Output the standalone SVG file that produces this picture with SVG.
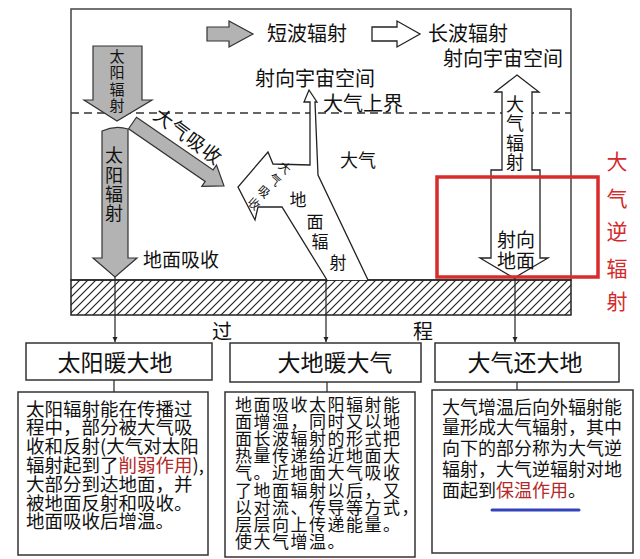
<svg xmlns="http://www.w3.org/2000/svg" width="640" height="559" viewBox="0 0 640 559">
<defs>
<pattern id="hatch" patternUnits="userSpaceOnUse" width="8" height="8">
<path d="M-2,2 L2,-2 M0,8 L8,0 M6,10 L10,6" stroke="#222" stroke-width="1.2"/>
</pattern>
<marker id="ah" viewBox="0 0 10 10" refX="10" refY="5" markerWidth="5" markerHeight="8" orient="auto" markerUnits="userSpaceOnUse">
<path d="M0,0 L10,5 L0,10 Z" fill="#222"/>
</marker>
<style>
text{font-family:"Noto Sans CJK SC","Noto Sans",sans-serif;fill:#111}
.g{fill:#b3b3b3;stroke:#333;stroke-width:1.2;stroke-linejoin:miter}
.w{fill:#fff;stroke:#222;stroke-width:1.3}
.box{fill:#fff;stroke:#333;stroke-width:1.5}
.ln{stroke:#222;stroke-width:1.2;fill:none}
.red{fill:#b22a2a}
.rt{fill:#d42a2a}
.m{text-anchor:middle}
</style>
</defs>
<rect width="640" height="559" fill="#fff"/>

<g id="frame">
<rect x="71" y="9" width="500" height="271" fill="#fff" stroke="#444" stroke-width="1.5"/>
<line x1="71" y1="113" x2="571" y2="113" stroke="#333" stroke-width="1.3" stroke-dasharray="8,5"/>
<rect x="71" y="280" width="500" height="35" fill="url(#hatch)" stroke="#222" stroke-width="1.5"/>
</g>

<g id="legend">
<path class="g" d="M207,27 L229,27 L229,21 L253,34 L229,47 L229,41 L207,41 Z"/>
<text x="267" y="40.5" font-size="20">短波辐射</text>
<path class="w" d="M372,27 L397,27 L397,21 L420,34 L397,47 L397,41 L372,41 Z"/>
<text x="428" y="40.5" font-size="20">长波辐射</text>
</g>

<g id="labels">
<text x="443" y="65.5" font-size="20">射向宇宙空间</text>
<text x="255" y="85.5" font-size="20">射向宇宙空间</text>
<text x="323" y="110.5" font-size="20">大气上界</text>
<text x="340" y="166.5" font-size="18">大气</text>
<text x="143" y="266.5" font-size="19">地面吸收</text>
<text x="212" y="339" font-size="20">过</text>
<text x="413" y="339" font-size="20">程</text>
</g>

<g id="solar-in">
<path class="g" d="M93,46 L142,46 L142,100 L152,100 L117,121 L84,100 L93,100 Z"/>
<text class="m" font-size="15"><tspan x="117" y="62">太</tspan><tspan x="117" y="78">阳</tspan><tspan x="117" y="94.5">辐</tspan><tspan x="117" y="110.5">射</tspan></text>
</g>

<g id="solar-ground">
<path class="g" d="M102,131 Q115,125 128,129 L128,258 L137,258 L115,277 L93,258 L102,258 Z"/>
<text class="m" font-size="18"><tspan x="114" y="161.5">太</tspan><tspan x="114" y="181.5">阳</tspan><tspan x="114" y="200.5">辐</tspan><tspan x="114" y="219.5">射</tspan></text>
</g>

<g id="atmo-absorb">
<path class="g" transform="translate(132.5,123) rotate(34.5)" d="M0,-7 L93,-7 L93,-13 L111,0 L93,13 L93,7 L0,7 Z"/>
<text transform="translate(152,118) rotate(37)" font-size="19" letter-spacing="1">大气吸收</text>
</g>

<g id="ground-radiation">
<path class="w" d="M327,280 L282,207 L258,207 L255,220 L238,187 L268,152 L273,164 L310,165 L310,102 L304,102 L309,90 L317,102 L315,102 L318,175 L368,280"/>
<text class="m" font-size="12" transform="translate(282,171) rotate(42)">大</text>
<text class="m" font-size="12" transform="translate(272,183) rotate(42)">气</text>
<text class="m" font-size="12" transform="translate(261,195) rotate(42)">吸</text>
<text class="m" font-size="12" transform="translate(251,207) rotate(42)">收</text>
<text class="m" font-size="17"><tspan x="298" y="206">地</tspan><tspan x="315" y="228">面</tspan><tspan x="320" y="248">辐</tspan><tspan x="338" y="269">射</tspan></text>
</g>

<g id="atmo-radiation">
<path class="w" d="M517,75 L539,92 L532,92 L532,170 L540,170 L540,258 L548,258 L514,278 L480,258 L491,258 L491,170 L502,170 L502,92 L495,92 Z"/>
<text class="m" font-size="18"><tspan x="515" y="110.5">大</tspan><tspan x="515" y="129.5">气</tspan><tspan x="515" y="150">辐</tspan><tspan x="515" y="168.5">射</tspan></text>
<text class="m" font-size="19"><tspan x="516" y="246.5">射向</tspan><tspan x="516" y="268">地面</tspan></text>
</g>

<g id="counter-radiation">
<rect x="437" y="177" width="161" height="100" fill="none" stroke="#d92b2b" stroke-width="3.5"/>
<text class="m rt" font-size="21"><tspan x="617" y="168.5">大</tspan><tspan x="617" y="205.5">气</tspan><tspan x="617" y="238.5">逆</tspan><tspan x="617" y="275.5">辐</tspan><tspan x="617" y="308.5">射</tspan></text>
</g>

<g id="connectors">
<line class="ln" x1="115" y1="277" x2="115" y2="342" marker-end="url(#ah)"/>
<line class="ln" x1="326" y1="280" x2="326" y2="342" marker-end="url(#ah)"/>
<line class="ln" x1="515" y1="278" x2="515" y2="342" marker-end="url(#ah)"/>
<line class="ln" x1="114" y1="380" x2="114" y2="392"/>
<line class="ln" x1="327" y1="382" x2="327" y2="392"/>
<line class="ln" x1="517" y1="382" x2="517" y2="390"/>
</g>

<g id="sun-warms-earth">
<rect class="box" x="26" y="343" width="186" height="37"/>
<text class="m" x="115" y="371" font-size="23">太阳暖大地</text>
<rect class="box" x="18" y="392" width="190" height="163"/>
<text font-size="18.5"><tspan x="26" y="415.5">太阳辐射能在传播过</tspan><tspan x="26" y="434.3">程中，部分被大气吸</tspan><tspan x="26" y="453.1">收和反射(大气对太阳</tspan><tspan x="26" y="471.9">辐射起到了<tspan class="red">削弱作用</tspan>),</tspan><tspan x="26" y="490.7">大部分到达地面，并</tspan><tspan x="26" y="509.5">被地面反射和吸收。</tspan><tspan x="26" y="528.3">地面吸收后增温。</tspan></text>
</g>

<g id="earth-warms-air">
<rect class="box" x="230" y="343" width="191" height="39"/>
<text class="m" x="335" y="371" font-size="23">大地暖大气</text>
<rect class="box" x="225" y="392" width="190" height="165"/>
<text font-size="17" letter-spacing="1.5"><tspan x="235" y="410.5">地面吸收太阳辐射能</tspan><tspan x="235" y="427.7">面增温，同时又以地</tspan><tspan x="235" y="444.9">面长波辐射的形式把</tspan><tspan x="235" y="462.1">热量传递给近地面大</tspan><tspan x="235" y="479.3">气。近地面大气吸收</tspan><tspan x="235" y="496.5">了地面辐射以后，又</tspan><tspan x="235" y="513.7">以对流、传导等方式，</tspan><tspan x="235" y="530.9">层层向上传递能量。</tspan><tspan x="235" y="548.1">使大气增温。</tspan></text>
</g>

<g id="air-returns-earth">
<rect class="box" x="435" y="343" width="184" height="39"/>
<text class="m" x="525" y="371" font-size="23">大气还大地</text>
<rect class="box" x="432" y="390" width="201" height="163"/>
<text font-size="18"><tspan x="442" y="413.5">大气增温后向外辐射能</tspan><tspan x="442" y="434">量形成大气辐射，其中</tspan><tspan x="442" y="455">向下的部分称为大气逆</tspan><tspan x="442" y="475.5">辐射，大气逆辐射对地</tspan><tspan x="442" y="496.5">面起到<tspan class="red">保温作用</tspan>。</tspan></text>
<line x1="492" y1="510" x2="579" y2="510" stroke="#3344bb" stroke-width="3" stroke-linecap="round"/>
</g>
</svg>
